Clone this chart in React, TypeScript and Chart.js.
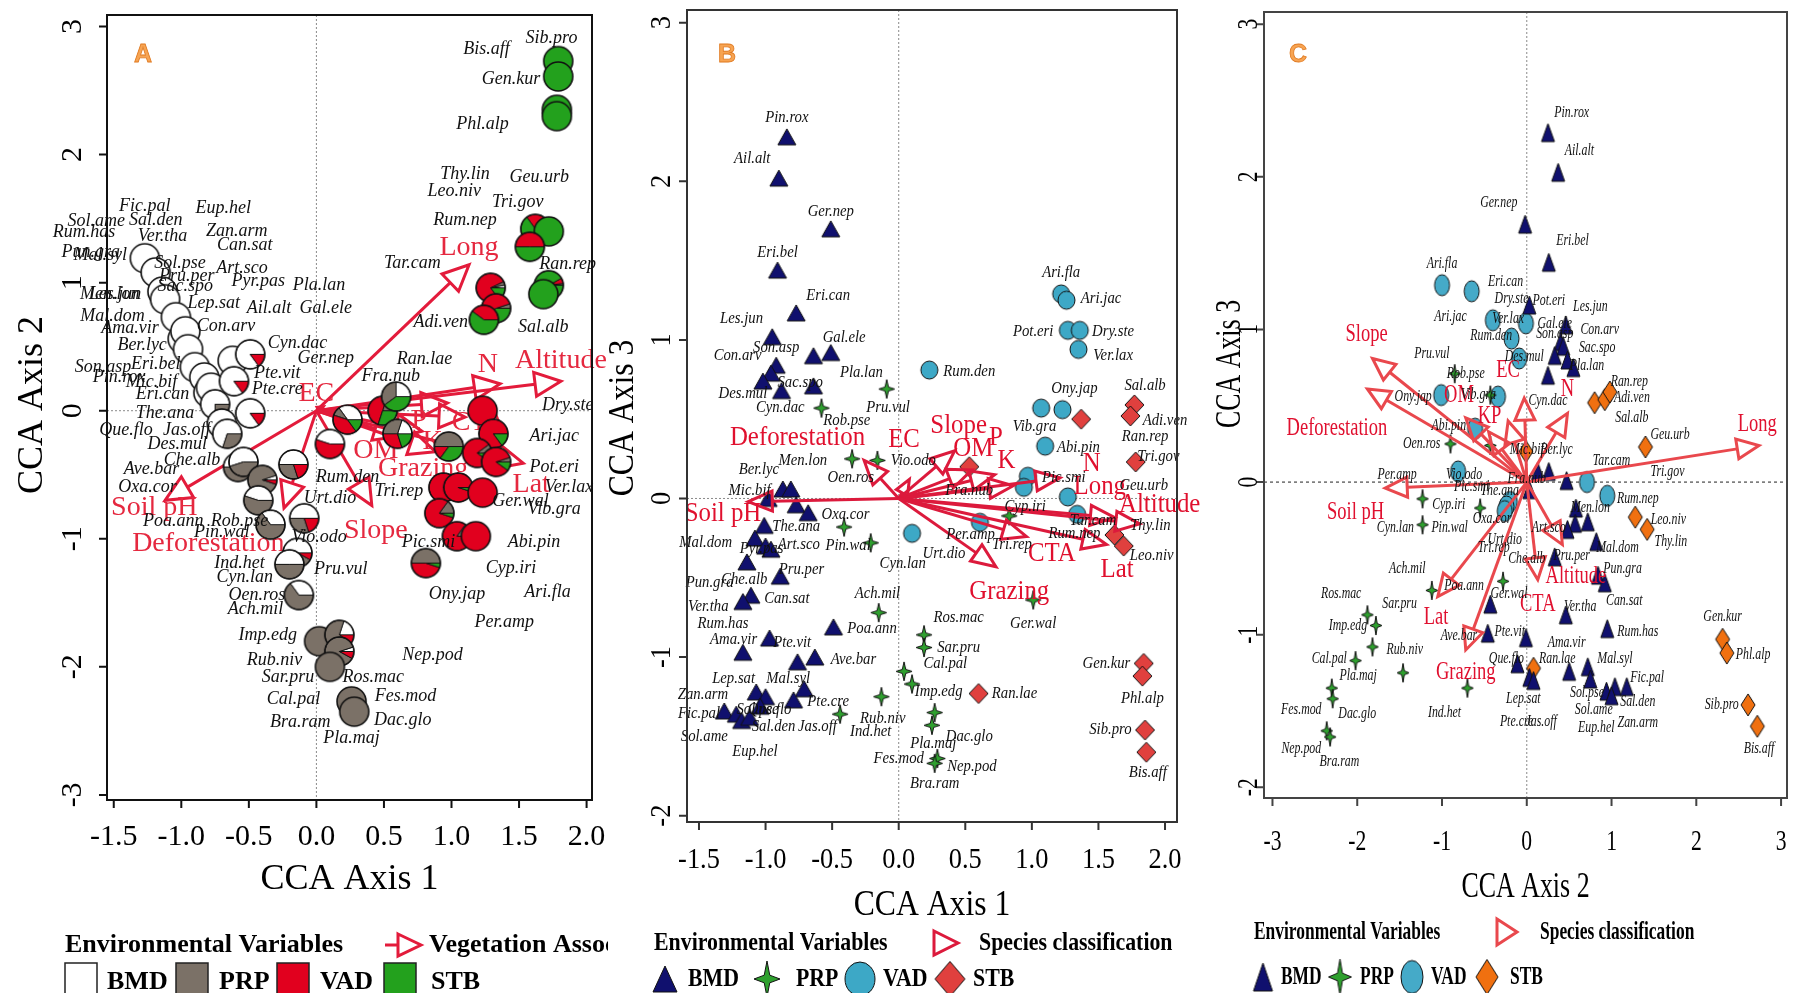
import React, { useEffect, useRef } from "react";
import { Chart, registerables } from "chart.js";
Chart.register(...registerables);

const W = 1797;
const H = 993;
const SERIF = "'Liberation Serif', 'Times New Roman', serif";
const SANS = "'Liberation Sans', Arial, sans-serif";

// ================= PANEL A =================
const A_xTicks = [-1.5, -1, -0.5, 0, 0.5, 1, 1.5, 2];
const A_xTickLabels = ["-1.5", "-1.0", "-0.5", "0.0", "0.5", "1.0", "1.5", "2.0"];
const A_yTicks = [-3, -2, -1, 0, 1, 2, 3];
const A_yTickLabels = ["-3", "-2", "-1", "0", "1", "2", "3"];

const A_ptX = [-1.27, -1.19, -1.14, -1.12, -1.04, -0.99, -0.97, -0.95, -0.9, -0.83, -0.8, -0.78, -0.75, -0.7, -0.66, -0.62, -0.61, -0.49, -0.49,
  -0.58, -0.54, -0.4, -0.43, -0.17, -0.34, -0.09, -0.14, -0.2, -0.13,
  0.02, 0.17, 0.17, 0.1, 0.26, 0.28,
  0.1, 0.23, 0.49, 0.59, 0.6, 0.98, 0.81,
  1.23, 1.31, 1.19, 1.33, 0.94, 1.05, 1.23, 0.91, 1.04, 1.18,
  1.29, 1.33, 1.24, 1.72, 1.68, 1.62, 1.72, 1.58, 1.79, 1.79, 1.78, 1.78];
const A_ptY = [1.19, 1.08, 0.93, 0.87, 0.73, 0.56, 0.62, 0.48, 0.34, 0.26, 0.14, 0.18, 0.05, -0.1, -0.18, 0.39, 0.23, 0.44, -0.02,
  -0.44, -0.4, -0.54, -0.7, -0.42, -0.89, -0.84, -1.11, -1.2, -1.44,
  -1.8, -1.75, -1.88, -2.0, -2.27, -2.35,
  -0.26, -0.07, 0.0, 0.11, -0.18, -0.28, -1.19,
  0.0, -0.18, -0.33, -0.4, -0.6, -0.6, -0.64, -0.8, -0.98, -0.98,
  0.96, 0.8, 0.71, 0.98, 0.91, 1.42, 1.4, 1.28, 2.73, 2.61, 2.35, 2.3];
// shares of [BMD, PRP, VAD, STB] in each pie
const A_ptPie = [
  [1, 0, 0, 0], [1, 0, 0, 0], [1, 0, 0, 0], [1, 0, 0, 0], [1, 0, 0, 0], [1, 0, 0, 0], [1, 0, 0, 0], [1, 0, 0, 0], [1, 0, 0, 0], [1, 0, 0, 0], [1, 0, 0, 0], [1, 0, 0, 0],
  [0.75, 0.25, 0, 0], [0.8, 0.2, 0, 0], [0.7, 0.3, 0, 0], [1, 0, 0, 0], [0.85, 0, 0.15, 0], [0.85, 0, 0.15, 0], [0.85, 0, 0.15, 0],
  [0.5, 0.5, 0, 0], [0.55, 0.45, 0, 0], [0.05, 0.9, 0.05, 0], [0.45, 0.55, 0, 0], [0.5, 0.3, 0.2, 0], [0.35, 0.65, 0, 0], [0.5, 0.3, 0.2, 0], [0.5, 0.42, 0.08, 0], [0.5, 0.5, 0, 0], [0.35, 0.65, 0, 0],
  [0, 1, 0, 0], [0.2, 0.7, 0.1, 0], [0.05, 0.87, 0.08, 0], [0, 1, 0, 0], [0, 1, 0, 0], [0, 1, 0, 0],
  [0.45, 0, 0.55, 0], [0.35, 0.1, 0.4, 0.15], [0, 0.2, 0.5, 0.3], [0.25, 0.35, 0, 0.4], [0.2, 0.3, 0.3, 0.2], [0, 0.5, 0.15, 0.35], [0, 0.5, 0.45, 0.05],
  [0, 0, 1, 0], [0, 0, 0.85, 0.15], [0, 0.1, 0.8, 0.1], [0, 0.05, 0.85, 0.1], [0, 0.15, 0.85, 0], [0, 0, 0.95, 0.05], [0, 0, 1, 0], [0, 0.15, 0.8, 0.05], [0, 0.15, 0.85, 0], [0, 0, 1, 0],
  [0.03, 0.04, 0.78, 0.15], [0, 0.05, 0.55, 0.4], [0, 0, 0.4, 0.6], [0, 0.02, 0.06, 0.92], [0, 0, 0, 1], [0, 0, 0.35, 0.65], [0, 0, 0, 1], [0, 0, 0.5, 0.5], [0, 0, 0, 1], [0, 0, 0, 1], [0, 0, 0, 1], [0, 0, 0, 1]];

const A_lblName = ["Sib.pro", "Bis.aff", "Gen.kur", "Phl.alp", "Thy.lin", "Geu.urb", "Leo.niv", "Tri.gov", "Rum.nep", "Tar.cam", "Ran.rep", "Adi.ven", "Sal.alb", "Ran.lae", "Fra.nub",
  "Dry.ste", "Ari.jac", "Pot.eri", "Ver.lax", "Ger.wal", "Vib.gra", "Abi.pin", "Pic.smi", "Rum.den", "Tri.rep", "Urt.dio", "Vio.odo", "Cyp.iri", "Ari.fla", "Ony.jap", "Per.amp",
  "Nep.pod", "Ros.mac", "Fes.mod", "Dac.glo", "Pla.maj", "Bra.ram", "Cal.pal", "Sar.pru", "Rub.niv", "Imp.edg", "Che.alb", "Ave.bar", "Oxa.cor", "Poa.ann", "Rob.pse", "Pin.wal",
  "Ind.het", "Cyn.lan", "Oen.ros", "Ach.mil", "Pru.vul", "Fic.pal", "Eup.hel", "Sal.den", "Zan.arm", "Ver.tha", "Can.sat", "Sol.pse", "Art.sco", "Pru.per", "Pyr.pas", "Pla.lan",
  "Sac.spo", "Lep.sat", "Ail.alt", "Gal.ele", "Con.arv", "Cyn.dac", "Ger.nep", "Pte.vit", "Pte.cre", "The.ana", "Jas.off", "Des.mul", "Que.flo", "Sol.ame", "Rum.has", "Pun.gra",
  "Mal.syl", "Men.lon", "Les.jun", "Mal.dom", "Ama.vir", "Ber.lyc", "Son.asp", "Eri.bel", "Pin.rox", "Mic.bif", "Eri.can"];
const A_lblX = [1.74, 1.26, 1.44, 1.23, 1.1, 1.65, 1.02, 1.49, 1.1, 0.71, 1.86, 0.92, 1.68, 0.8, 0.55,
  1.86, 1.76, 1.76, 1.87, 1.51, 1.76, 1.61, 0.83, 0.23, 0.61, 0.1, 0.02, 1.44, 1.71, 1.04, 1.39,
  0.86, 0.42, 0.66, 0.64, 0.26, -0.12, -0.17, -0.21, -0.31, -0.36, -0.92, -1.22, -1.25, -1.06, -0.57, -0.7,
  -0.57, -0.53, -0.44, -0.45, 0.18, -1.27, -0.69, -1.19, -0.59, -1.14, -0.53, -1.01, -0.55, -0.96, -0.43, 0.02,
  -0.97, -0.76, -0.35, 0.07, -0.67, -0.14, 0.07, -0.29, -0.29, -1.12, -0.96, -1.03, -1.41, -1.63, -1.72, -1.67,
  -1.6, -1.53, -1.49, -1.51, -1.38, -1.29, -1.58, -1.19, -1.46, -1.22, -1.14];
const A_lblY = [2.91, 2.82, 2.59, 2.24, 1.85, 1.82, 1.71, 1.63, 1.49, 1.15, 1.14, 0.69, 0.65, 0.4, 0.27,
  0.04, -0.2, -0.44, -0.6, -0.71, -0.77, -1.03, -1.03, -0.52, -0.63, -0.68, -0.99, -1.23, -1.42, -1.43, -1.65,
  -1.91, -2.08, -2.23, -2.42, -2.56, -2.43, -2.25, -2.08, -1.95, -1.75, -0.39, -0.46, -0.6, -0.86, -0.86, -0.95,
  -1.19, -1.3, -1.44, -1.55, -1.24, 1.6, 1.58, 1.49, 1.4, 1.36, 1.29, 1.15, 1.11, 1.05, 1.01, 0.98,
  0.97, 0.84, 0.8, 0.8, 0.66, 0.53, 0.41, 0.29, 0.17, -0.02, -0.15, -0.26, -0.15, 1.48, 1.39, 1.24,
  1.21, 0.91, 0.91, 0.74, 0.64, 0.51, 0.34, 0.36, 0.26, 0.22, 0.13];

const A_envName = ["Long", "Altitude", "N", "P", "CTA", "K", "OM", "Grazing", "Lat", "Slope", "Deforestation", "Soil pH", "EC"];
const A_envX = [1.13, 1.81, 1.36, 0.97, 1.1, 0.78, 0.62, 0.88, 1.53, 0.41, -0.24, -1.12, 0.05];
const A_envY = [1.14, 0.23, 0.21, 0.06, -0.05, -0.16, -0.2, -0.32, -0.41, -0.74, -0.76, -0.7, 0.03];
const A_envLblX = [1.13, 1.81, 1.27, 0.76, 1.2, 0.86, 0.44, 0.79, 1.59, 0.44, -0.8, -1.2, 0.0];
const A_envLblY = [1.27, 0.39, 0.36, -0.08, -0.09, -0.24, -0.31, -0.45, -0.58, -0.94, -1.04, -0.76, 0.13];

// ================= PANEL B =================
const B_xTicks = [-1.5, -1, -0.5, 0, 0.5, 1, 1.5, 2];
const B_xTickLabels = ["-1.5", "-1.0", "-0.5", "0.0", "0.5", "1.0", "1.5", "2.0"];
const B_yTicks = [-2, -1, 0, 1, 2, 3];
const B_yTickLabels = ["-2", "-1", "0", "1", "2", "3"];

const B_bmdX = [-0.84, -0.9, -0.51, -0.91, -0.77, -0.95, -0.51, -0.64, -0.92, -0.96, -1.02, -0.64, -0.88, -0.87, -0.81, -0.98, -0.77, -0.68, -1.01, -1.08,
  -1.0, -0.96, -1.14, -0.89, -1.11, -1.17, -0.49, -0.97, -1.17, -0.76, -0.63, -1.07, -1.0, -0.71, -0.79, -1.04, -1.31, -1.22, -1.18, -1.12];
const B_bmdY = [2.28, 2.02, 1.7, 1.44, 1.17, 1.02, 0.92, 0.9, 0.84, 0.79, 0.74, 0.71, 0.68, 0.06, 0.06, 0.0, -0.04, -0.09, -0.17, -0.25,
  -0.3, -0.32, -0.4, -0.49, -0.61, -0.65, -0.81, -0.88, -0.97, -1.03, -1.0, -1.22, -1.25, -1.2, -1.27, -1.31, -1.34, -1.36, -1.4, -1.38];
const B_prpX = [-0.09, -0.58, -0.35, -0.16, -0.41, -0.21, -0.15, 0.19, 0.19, 0.04, 0.1, -0.44, -0.13, 0.27, 0.25, 0.29, 0.27, 0.83, 1.01];
const B_prpY = [0.69, 0.57, 0.25, 0.24, -0.18, -0.28, -0.72, -0.86, -0.94, -1.09, -1.17, -1.36, -1.25, -1.35, -1.43, -1.64, -1.67, -0.11, -0.64];
const B_vadX = [0.23, 1.22, 1.26, 1.27, 1.36, 1.35, 1.07, 1.23, 1.1, 0.97, 0.94, 1.27, 1.34, 0.61, 0.1];
const B_vadY = [0.81, 1.29, 1.25, 1.06, 1.06, 0.94, 0.57, 0.56, 0.33, 0.14, 0.07, 0.01, -0.1, -0.15, -0.22];
const B_stbX = [0.53, 1.37, 1.77, 1.74, 1.78, 1.62, 1.69, 0.6, 1.84, 1.83, 1.85, 1.86];
const B_stbY = [0.2, 0.5, 0.59, 0.52, 0.23, -0.23, -0.3, -1.23, -1.04, -1.12, -1.46, -1.6];

const B_lblName = ["Pin.rox", "Ail.alt", "Ger.nep", "Eri.bel", "Eri.can", "Les.jun", "Gal.ele", "Son.asp", "Con.arv", "Sac.spo", "Des.mul", "Cyn.dac", "Pla.lan", "Rob.pse",
  "Pru.vul", "Rum.den", "Ber.lyc", "Mic.bif", "Men.lon", "Oen.ros", "Vio.odo", "Fra.nub", "Oxa.cor", "The.ana", "Mal.dom", "Art.sco", "Pyr.pas", "Pin.wal", "Cyn.lan",
  "Urt.dio", "Per.amp", "Tri.rep", "Pru.per", "Che.alb", "Pun.gra", "Can.sat", "Ver.tha", "Ach.mil", "Rum.has", "Poa.ann", "Ama.vir", "Pte.vit", "Ave.bar", "Ros.mac",
  "Sar.pru", "Cal.pal", "Imp.edg", "Ran.lae", "Ger.wal", "Gen.kur", "Phl.alp", "Sib.pro", "Bis.aff", "Lep.sat", "Mal.syl", "Pte.cre", "Zan.arm", "Fic.pal", "Sol.pse",
  "Que.flo", "Sal.den", "Jas.off", "Sol.ame", "Eup.hel", "Rub.niv", "Ind.het", "Dac.glo", "Pla.maj", "Fes.mod", "Nep.pod", "Bra.ram", "Ari.fla", "Ari.jac", "Pot.eri",
  "Dry.ste", "Ver.lax", "Ony.jap", "Vib.gra", "Abi.pin", "Sal.alb", "Adi.ven", "Ran.rep", "Tri.gov", "Geu.urb", "Pic.smi", "Cyp.iri", "Tar.cam", "Rum.nep", "Thy.lin", "Leo.niv"];
const B_lblX = [-0.84, -1.1, -0.51, -0.91, -0.53, -1.18, -0.41, -0.92, -1.21, -0.74, -1.17, -0.89, -0.28, -0.39,
  -0.08, 0.53, -1.05, -1.12, -0.72, -0.36, 0.11, 0.53, -0.4, -0.77, -1.45, -0.75, -1.03, -0.38, 0.03,
  0.34, 0.54, 0.85, -0.73, -1.16, -1.42, -0.84, -1.43, -0.16, -1.32, -0.2, -1.24, -0.8, -0.34, 0.45,
  0.45, 0.35, 0.3, 0.87, 1.01, 1.56, 1.83, 1.59, 1.87, -1.24, -0.83, -0.53, -1.47, -1.5, -1.06,
  -0.97, -0.94, -0.61, -1.46, -1.08, -0.12, -0.21, 0.53, 0.26, 0.0, 0.55, 0.27, 1.22, 1.52, 1.01,
  1.61, 1.61, 1.32, 1.02, 1.35, 1.85, 2.0, 1.85, 1.95, 1.84, 1.24, 0.95, 1.46, 1.32, 1.89, 1.9];
const B_lblY = [2.4, 2.14, 1.81, 1.55, 1.28, 1.13, 1.01, 0.95, 0.9, 0.73, 0.66, 0.57, 0.79, 0.49,
  0.57, 0.8, 0.18, 0.05, 0.24, 0.13, 0.24, 0.05, -0.1, -0.18, -0.28, -0.29, -0.32, -0.3, -0.41,
  -0.35, -0.23, -0.29, -0.45, -0.51, -0.53, -0.63, -0.68, -0.6, -0.79, -0.82, -0.89, -0.91, -1.02, -0.75,
  -0.94, -1.04, -1.22, -1.23, -0.79, -1.04, -1.26, -1.46, -1.73, -1.14, -1.14, -1.28, -1.24, -1.36, -1.33,
  -1.33, -1.44, -1.44, -1.5, -1.6, -1.39, -1.47, -1.5, -1.55, -1.64, -1.69, -1.8, 1.42, 1.26, 1.05,
  1.05, 0.9, 0.69, 0.45, 0.32, 0.71, 0.49, 0.39, 0.26, 0.08, 0.13, -0.05, -0.14, -0.22, -0.17, -0.36];

const B_envName = ["Soil pH", "Deforestation", "EC", "Slope", "OM", "P", "K", "N", "Long", "Altitude", "Lat", "CTA", "Grazing"];
const B_envX = [-1.13, -0.26, 0.08, 0.42, 0.55, 0.72, 0.86, 1.21, 1.62, 1.81, 1.56, 0.96, 0.73];
const B_envY = [-0.02, 0.24, 0.12, 0.3, 0.18, 0.15, 0.08, 0.13, -0.12, -0.16, -0.29, -0.24, -0.43];
const B_envLblX = [-1.32, -0.76, 0.04, 0.45, 0.56, 0.73, 0.81, 1.45, 1.51, 1.96, 1.64, 1.15, 0.83];
const B_envLblY = [-0.1, 0.38, 0.37, 0.46, 0.31, 0.38, 0.24, 0.22, 0.07, -0.04, -0.45, -0.35, -0.59];

// ================= PANEL C =================
const C_xTicks = [-3, -2, -1, 0, 1, 2, 3];
const C_xTickLabels = ["-3", "-2", "-1", "0", "1", "2", "3"];
const C_yTicks = [-2, -1, 0, 1, 2, 3];
const C_yTickLabels = ["-2", "-1", "0", "1", "2", "3"];

const C_bmdX = [0.25, 0.37, -0.02, 0.26, 0.03, 0.46, 0.4, 0.43, 0.33, 0.48, 0.55, 0.25, 0.13, 0.26, 0.47, 0.03, 0.58, 0.57, 0.72, 0.48,
  0.82, 0.33, 0.84, 0.92, 0.46, -0.43, 0.95, -0.46, -0.01, -0.11, 0.03, 0.08, 0.5, 0.72, 0.75, 0.94, 1.04, 1.18, 1.0];
const C_bmdY = [2.29, 2.03, 1.69, 1.44, 1.16, 1.03, 0.92, 0.89, 0.83, 0.8, 0.75, 0.7, 0.07, 0.07, 0.01, -0.05, -0.17, -0.27, -0.26, -0.31,
  -0.39, -0.49, -0.61, -0.66, -0.87, -0.8, -0.96, -0.99, -1.02, -1.19, -1.28, -1.3, -1.24, -1.21, -1.29, -1.37, -1.34, -1.34, -1.4];
const C_prpX = [-0.85, -0.43, -0.9, -0.43, -1.23, -0.55, -1.23, -1.12, -0.28, -1.88, -1.78, -1.82, -1.46, -2.02, -2.3, -2.29, -2.36, -2.32, -0.7];
const C_prpY = [0.71, 0.57, 0.25, 0.24, -0.11, -0.17, -0.28, -0.71, -0.65, -0.87, -0.94, -1.08, -1.25, -1.17, -1.35, -1.42, -1.63, -1.67, -1.35];
const C_vadX = [-1.0, -0.65, -0.4, -0.01, -0.18, -0.09, -1.01, -0.34, -0.61, -0.81, -0.2, -0.24, -0.26, 0.71, 0.95];
const C_vadY = [1.29, 1.25, 1.06, 1.04, 0.94, 0.81, 0.57, 0.56, 0.35, 0.07, -0.13, -0.16, -0.19, 0.0, -0.09];
const C_stbX = [0.8, 0.92, 0.98, 1.4, -0.01, 1.28, 1.42, 0.08, 2.31, 2.36, 2.61, 2.72];
const C_stbY = [0.52, 0.54, 0.59, 0.23, 0.2, -0.23, -0.31, -1.22, -1.03, -1.12, -1.46, -1.6];

const C_lblName = ["Pin.rox", "Ail.alt", "Ger.nep", "Eri.bel", "Ari.fla", "Ari.jac", "Eri.can", "Dry.ste", "Pot.eri", "Ver.lax", "Rum.den", "Des.mul", "Les.jun",
  "Gal.ele", "Son.asp", "Con.arv", "Sac.spo", "Pla.lan", "Cyn.dac", "Pru.vul", "Rob.pse", "Ony.jap", "Vib.gra", "Abi.pin", "Oen.ros", "Ran.rep", "Adi.ven",
  "Sal.alb", "Geu.urb", "Mic.bif", "Ber.lyc", "Tar.cam", "Tri.gov", "Per.amp", "Vio.odo", "Pic.smi", "The.ana", "Fra.nub", "Oxa.cor", "Cyp.iri", "Cyn.lan",
  "Pin.wal", "Urt.dio", "Tri.rep", "Rum.nep", "Men.lon", "Art.sco", "Mal.dom", "Leo.niv", "Thy.lin", "Che.alb", "Pru.per", "Pun.gra", "Can.sat", "Ver.tha",
  "Ach.mil", "Poa.ann", "Ger.wal", "Ros.mac", "Sar.pru", "Imp.edg", "Rub.niv", "Cal.pal", "Pla.maj", "Fes.mod", "Dac.glo", "Nep.pod", "Bra.ram", "Ave.bar",
  "Pte.vit", "Ind.het", "Que.flo", "Ran.lae", "Ama.vir", "Rum.has", "Mal.syl", "Fic.pal", "Sol.pse", "Sal.den", "Sol.ame", "Zan.arm", "Eup.hel", "Lep.sat",
  "Pte.cre", "Jas.off", "Gen.kur", "Phl.alp", "Sib.pro", "Bis.aff"];
const C_lblX = [0.53, 0.62, -0.33, 0.54, -1.0, -0.9, -0.25, -0.18, 0.26, -0.22, -0.42, -0.03, 0.75,
  0.33, 0.33, 0.86, 0.83, 0.71, 0.25, -1.12, -0.72, -1.34, -0.57, -0.92, -1.24, 1.21, 1.24,
  1.24, 1.69, 0.0, 0.35, 1.0, 1.66, -1.53, -0.74, -0.65, -0.32, 0.0, -0.41, -0.92, -1.55,
  -0.91, -0.26, -0.39, 1.31, 0.75, 0.26, 1.07, 1.67, 1.7, 0.0, 0.53, 1.13, 1.15, 0.63,
  -1.41, -0.74, -0.21, -2.19, -1.5, -2.11, -1.44, -2.33, -1.99, -2.66, -2.0, -2.66, -2.21, -0.8,
  -0.2, -0.97, -0.24, 0.36, 0.47, 1.31, 1.04, 1.42, 0.71, 1.31, 0.79, 1.31, 0.82, -0.04,
  -0.12, 0.17, 2.31, 2.67, 2.3, 2.74];
const C_lblY = [2.42, 2.17, 1.83, 1.58, 1.43, 1.08, 1.31, 1.2, 1.19, 1.07, 0.96, 0.82, 1.15,
  1.04, 0.97, 1.0, 0.88, 0.76, 0.53, 0.84, 0.71, 0.56, 0.57, 0.37, 0.25, 0.66, 0.55,
  0.42, 0.31, 0.21, 0.21, 0.14, 0.07, 0.05, 0.05, -0.03, -0.06, 0.02, -0.24, -0.15, -0.3,
  -0.3, -0.38, -0.43, -0.11, -0.17, -0.3, -0.43, -0.25, -0.39, -0.5, -0.48, -0.57, -0.78, -0.82,
  -0.57, -0.68, -0.73, -0.73, -0.8, -0.94, -1.1, -1.16, -1.27, -1.49, -1.52, -1.75, -1.83, -1.01,
  -0.98, -1.51, -1.16, -1.16, -1.05, -0.98, -1.16, -1.28, -1.38, -1.44, -1.49, -1.58, -1.61, -1.42,
  -1.57, -1.57, -0.88, -1.13, -1.46, -1.75];

const C_envName = ["Slope", "Deforestation", "OM", "K", "P", "EC", "N", "Long", "Soil pH", "Lat", "Grazing", "CTA", "Altitude"];
const C_envX = [-1.82, -1.88, -0.72, -0.45, -0.22, -0.03, 0.48, 2.74, -1.67, -1.05, -0.72, 0.13, 0.42];
const C_envY = [0.81, 0.61, 0.42, 0.33, 0.4, 0.55, 0.45, 0.24, -0.04, -0.75, -1.1, -0.64, -0.41];
const C_envLblX = [-1.89, -2.24, -0.8, -0.5, -0.36, -0.22, 0.48, 2.72, -2.02, -1.07, -0.72, 0.13, 0.58];
const C_envLblY = [0.97, 0.35, 0.57, 0.43, 0.43, 0.73, 0.61, 0.38, -0.2, -0.89, -1.25, -0.8, -0.62];

// ================= helpers =================
const PIE_COLORS = ["#ffffff", "#7b7167", "#e1001e", "#23a11d"];

function txt(ctx: any, s: string, x: number, y: number, o: any = {}) {
  ctx.save();
  ctx.translate(x, y);
  if (o.rot) ctx.rotate(o.rot);
  if (o.sx && o.sx !== 1) ctx.scale(o.sx, 1);
  ctx.font = o.font || `16px ${SERIF}`;
  ctx.fillStyle = o.color || "#000";
  ctx.textAlign = o.align || "center";
  ctx.textBaseline = o.baseline || "middle";
  ctx.fillText(s, 0, 0);
  ctx.restore();
}

function makePie(f: number[], r: number) {
  const s = Math.ceil(2 * r + 4);
  const c = document.createElement("canvas");
  c.width = s;
  c.height = s;
  const g: any = c.getContext("2d");
  const cx = s / 2, cy = s / 2;
  const tot = f.reduce((a, b) => a + b, 0);
  let a = 0;
  const nz = f.filter((v) => v > 0).length;
  for (let i = 0; i < f.length; i++) {
    if (f[i] <= 0) continue;
    const da = (f[i] / tot) * Math.PI * 2;
    g.beginPath();
    g.moveTo(cx, cy);
    g.arc(cx, cy, r, -a, -(a + da), true);
    g.closePath();
    g.fillStyle = PIE_COLORS[i];
    g.fill();
    if (nz > 1) {
      g.lineWidth = 1;
      g.strokeStyle = "#111";
      g.stroke();
    }
    a += da;
  }
  g.beginPath();
  g.arc(cx, cy, r, 0, Math.PI * 2);
  g.lineWidth = 1.6;
  g.strokeStyle = "#111";
  g.stroke();
  return c;
}

function shapePath(g: any, shape: string, cx: number, cy: number, w: number, h: number) {
  g.beginPath();
  if (shape === "tri") {
    g.moveTo(cx, cy - h / 2);
    g.lineTo(cx + w / 2, cy + h / 2);
    g.lineTo(cx - w / 2, cy + h / 2);
    g.closePath();
  } else if (shape === "circ") {
    g.ellipse(cx, cy, w / 2, h / 2, 0, 0, Math.PI * 2);
  } else if (shape === "dia") {
    g.moveTo(cx, cy - h / 2);
    g.lineTo(cx + w / 2, cy);
    g.lineTo(cx, cy + h / 2);
    g.lineTo(cx - w / 2, cy);
    g.closePath();
  } else {
    for (let k = 0; k < 8; k++) {
      const ang = (k * Math.PI) / 4 - Math.PI / 2;
      const rr = k % 2 === 0 ? 1 : 0.3;
      const x = cx + Math.cos(ang) * (w / 2) * rr;
      const y = cy + Math.sin(ang) * (h / 2) * rr;
      if (k === 0) g.moveTo(x, y);
      else g.lineTo(x, y);
    }
    g.closePath();
  }
}

function makeMarker(shape: string, fill: string, w: number, h: number) {
  const c = document.createElement("canvas");
  c.width = Math.ceil(w + 4);
  c.height = Math.ceil(h + 4);
  const g: any = c.getContext("2d");
  shapePath(g, shape, c.width / 2, c.height / 2, w, h);
  g.fillStyle = fill;
  g.fill();
  g.lineWidth = 1;
  g.strokeStyle = "#111";
  g.stroke();
  return c;
}

function drawArrow(ctx: any, x0: number, y0: number, x1: number, y1: number, color: string, lw: number, hl0: number, hw0: number) {
  const dx = x1 - x0, dy = y1 - y0;
  const L = Math.hypot(dx, dy);
  if (L < 2) return;
  const ux = dx / L, uy = dy / L;
  const hl = Math.min(hl0, L * 0.7);
  const hw = (hw0 * hl) / hl0;
  const bx = x1 - ux * hl, by = y1 - uy * hl;
  ctx.save();
  ctx.strokeStyle = color;
  ctx.lineWidth = lw;
  ctx.lineJoin = "miter";
  ctx.beginPath();
  ctx.moveTo(x0, y0);
  ctx.lineTo(bx, by);
  ctx.stroke();
  ctx.beginPath();
  ctx.moveTo(x1, y1);
  ctx.lineTo(bx - (uy * hw) / 2, by + (ux * hw) / 2);
  ctx.lineTo(bx + (uy * hw) / 2, by - (ux * hw) / 2);
  ctx.closePath();
  ctx.stroke();
  ctx.restore();
}

function drawEnv(chart: any, cfg: any) {
  const ctx = chart.ctx;
  const xs = chart.scales.x, ys = chart.scales.y;
  const ox = xs.getPixelForValue(0), oy = ys.getPixelForValue(0);
  const e = cfg.env;
  for (let i = 0; i < e.name.length; i++) {
    drawArrow(ctx, ox, oy, xs.getPixelForValue(e.x[i]), ys.getPixelForValue(e.y[i]), cfg.arrowColor, cfg.arrowLW, cfg.headLen, cfg.headW);
  }
  for (let i = 0; i < e.name.length; i++) {
    txt(ctx, e.name[i], xs.getPixelForValue(e.lx[i]), ys.getPixelForValue(e.ly[i]), { font: cfg.envFont, color: cfg.envColor, sx: cfg.sx });
  }
}

function drawLegend(ctx: any, cfg: any) {
  const o = cfg.ox;
  const lg = cfg.legend;
  const bf = `bold 26px ${SERIF}`;
  txt(ctx, "Environmental Variables", lg.titleX - o, lg.titleY, { font: bf, align: "left", sx: lg.sx });
  ctx.save();
  ctx.strokeStyle = lg.iconColor;
  ctx.lineWidth = 3;
  const ix = lg.iconX - o, iy = lg.titleY;
  if (lg.iconLine) {
    ctx.beginPath();
    ctx.moveTo(ix - 13, iy);
    ctx.lineTo(ix, iy);
    ctx.stroke();
  }
  ctx.beginPath();
  ctx.moveTo(ix, iy - lg.iconH / 2);
  ctx.lineTo(ix + lg.iconW, iy);
  ctx.lineTo(ix, iy + lg.iconH / 2);
  ctx.closePath();
  ctx.stroke();
  ctx.restore();
  txt(ctx, lg.secondTitle, lg.secondX - o, lg.titleY, { font: bf, align: "left", sx: lg.sx });
  const names = ["BMD", "PRP", "VAD", "STB"];
  for (let i = 0; i < 4; i++) {
    const it = lg.items[i];
    if (lg.squares) {
      ctx.save();
      ctx.fillStyle = PIE_COLORS[i];
      ctx.fillRect(it.mx - o, lg.rowTop, 32, 44);
      ctx.strokeStyle = "#222";
      ctx.lineWidth = 1.5;
      ctx.strokeRect(it.mx - o, lg.rowTop, 32, 44);
      ctx.restore();
    } else {
      const m = it.marker;
      ctx.drawImage(m, it.mx - o - m.width / 2, lg.rowY - m.height / 2);
    }
    txt(ctx, names[i], it.tx - o, lg.rowY, { font: bf, align: "left", sx: lg.sx });
  }
}

function makePlugin(cfg: any) {
  return {
    id: "cca" + cfg.id,
    beforeDatasetsDraw(chart: any) {
      const ctx = chart.ctx;
      const a = chart.chartArea;
      const xs = chart.scales.x, ys = chart.scales.y;
      const x0 = xs.getPixelForValue(0), y0 = ys.getPixelForValue(0);
      ctx.save();
      ctx.lineWidth = 1;
      ctx.strokeStyle = "#8a8a8a";
      ctx.setLineDash([2, 2]);
      ctx.beginPath();
      ctx.moveTo(x0, a.top);
      ctx.lineTo(x0, a.bottom);
      ctx.stroke();
      ctx.strokeStyle = cfg.hZeroColor;
      ctx.setLineDash(cfg.hZeroDash);
      ctx.beginPath();
      ctx.moveTo(a.left, y0);
      ctx.lineTo(a.right, y0);
      ctx.stroke();
      ctx.restore();
      if (!cfg.arrowsOnTop) drawEnv(chart, cfg);
    },
    afterDatasetsDraw(chart: any) {
      if (cfg.arrowsOnTop) drawEnv(chart, cfg);
      const ctx = chart.ctx;
      const xs = chart.scales.x, ys = chart.scales.y;
      const l = cfg.labels;
      for (let i = 0; i < l.name.length; i++) {
        txt(ctx, l.name[i], xs.getPixelForValue(l.x[i]), ys.getPixelForValue(l.y[i]), { font: cfg.lblFont, color: "#111", sx: cfg.sx });
      }
    },
    afterDraw(chart: any) {
      const ctx = chart.ctx;
      const a = chart.chartArea;
      const xs = chart.scales.x, ys = chart.scales.y;
      const o = cfg.ox;
      ctx.save();
      ctx.strokeStyle = cfg.boxColor;
      ctx.lineWidth = 2;
      ctx.strokeRect(a.left, a.top, a.right - a.left, a.bottom - a.top);
      ctx.beginPath();
      cfg.xTicks.forEach((v: number) => {
        const px = xs.getPixelForValue(v);
        ctx.moveTo(px, a.bottom);
        ctx.lineTo(px, a.bottom + 8);
      });
      cfg.yTicks.forEach((v: number) => {
        const py = ys.getPixelForValue(v);
        ctx.moveTo(a.left - 8, py);
        ctx.lineTo(a.left, py);
      });
      ctx.stroke();
      ctx.restore();
      const tf = `30px ${SERIF}`;
      cfg.xTicks.forEach((v: number, i: number) => {
        txt(ctx, cfg.xTickLabels[i], xs.getPixelForValue(v), cfg.xLabY, { font: tf, sx: cfg.tsx });
      });
      cfg.yTicks.forEach((v: number, i: number) => {
        txt(ctx, cfg.yTickLabels[i], cfg.yLabX - o, ys.getPixelForValue(v), { font: tf, sx: cfg.tsx, rot: -Math.PI / 2 });
      });
      const af = `36px ${SERIF}`;
      txt(ctx, cfg.xTitle, (a.left + a.right) / 2, cfg.xTitleY, { font: af, sx: cfg.tsx });
      txt(ctx, cfg.yTitle, cfg.yTitleX - o, cfg.yTitleCY, { font: af, sx: cfg.tsx, rot: -Math.PI / 2 });
      ctx.save();
      ctx.font = `bold 25px ${SANS}`;
      ctx.textAlign = "center";
      ctx.textBaseline = "middle";
      ctx.fillStyle = "#f7a452";
      ctx.fillText(cfg.letter, cfg.letterX - o, 55);
      ctx.lineWidth = 0.8;
      ctx.strokeStyle = "#e07a22";
      ctx.strokeText(cfg.letter, cfg.letterX - o, 55);
      ctx.restore();
      drawLegend(ctx, cfg);
    },
  };
}

function buildPanel(canvas: HTMLCanvasElement, cfg: any) {
  const datasets = cfg.groups.map((g: any) => ({
    label: g.name,
    data: g.x.map((v: number, i: number) => ({ x: v, y: g.y[i] })),
    pointStyle: g.style,
    pointRadius: g.radius,
    pointHoverRadius: g.radius,
    clip: false,
  }));
  return new Chart(canvas, {
    type: "scatter",
    data: { datasets },
    options: {
      responsive: false,
      maintainAspectRatio: false,
      animation: false,
      devicePixelRatio: 1,
      events: [],
      layout: { padding: { left: cfg.L - cfg.ox, right: cfg.ox + cfg.w - cfg.R, top: cfg.T, bottom: H - cfg.B } },
      plugins: { legend: { display: false }, tooltip: { enabled: false }, title: { display: false } },
      scales: {
        x: { type: "linear", min: cfg.xmin, max: cfg.xmax, display: false, ticks: { stepSize: cfg.xStep, includeBounds: false } },
        y: { type: "linear", min: cfg.ymin, max: cfg.ymax, display: false, ticks: { stepSize: 1, includeBounds: false } },
      },
    },
    plugins: [makePlugin(cfg)],
  } as any);
}

function configA() {
  return {
    id: "A", ox: 0, w: 608, L: 107, R: 592, T: 9, B: 800,
    xmin: -1.55, xmax: 2.04, ymin: -3.04, ymax: 3.09, xStep: 0.5,
    xTicks: A_xTicks, xTickLabels: A_xTickLabels, yTicks: A_yTicks, yTickLabels: A_yTickLabels,
    xLabY: 837, yLabX: 73, xTitle: "CCA Axis 1", xTitleY: 880, yTitle: "CCA Axis 2", yTitleX: 33, yTitleCY: 405,
    tsx: 1, sx: 1, letter: "A", letterX: 143, boxColor: "#111", hZeroColor: "#8a8a8a", hZeroDash: [2, 2],
    arrowsOnTop: false, arrowColor: "#e31b3b", arrowLW: 3, headLen: 26, headW: 24,
    envFont: `28px ${SERIF}`, envColor: "#e5283f", lblFont: `italic 18px ${SERIF}`,
    groups: [{ name: "Vegetation associations", x: A_ptX, y: A_ptY, style: A_ptPie.map((p) => makePie(p, 14.5)), radius: 14 }],
    labels: { name: A_lblName, x: A_lblX, y: A_lblY },
    env: { name: A_envName, x: A_envX, y: A_envY, lx: A_envLblX, ly: A_envLblY },
    legend: {
      sx: 1, titleX: 65, titleY: 945, iconX: 398, iconW: 23, iconH: 22, iconLine: true, iconColor: "#e31b3b",
      secondTitle: "Vegetation Association", secondX: 429, rowY: 982, rowTop: 963, squares: true,
      items: [{ mx: 65, tx: 107 }, { mx: 176, tx: 219 }, { mx: 277, tx: 320 }, { mx: 384, tx: 431 }],
    },
  };
}

function configB() {
  const cols = ["#10106e", "#2ea02e", "#3da8c6", "#e0403e"];
  return {
    id: "B", ox: 608, w: 604, L: 687, R: 1177, T: 10, B: 822,
    xmin: -1.59, xmax: 2.09, ymin: -2.04, ymax: 3.08, xStep: 0.5,
    xTicks: B_xTicks, xTickLabels: B_xTickLabels, yTicks: B_yTicks, yTickLabels: B_yTickLabels,
    xLabY: 860, yLabX: 662, xTitle: "CCA Axis 1", xTitleY: 906, yTitle: "CCA Axis 3", yTitleX: 624, yTitleCY: 418,
    tsx: 0.88, sx: 0.92, letter: "B", letterX: 727, boxColor: "#333", hZeroColor: "#8a8a8a", hZeroDash: [2, 2],
    arrowsOnTop: true, arrowColor: "#dc1a3c", arrowLW: 3, headLen: 24, headW: 20,
    envFont: `27px ${SERIF}`, envColor: "#e0102e", lblFont: `italic 16px ${SERIF}`,
    groups: [
      { name: "BMD", x: B_bmdX, y: B_bmdY, style: makeMarker("tri", cols[0], 18, 16), radius: 8 },
      { name: "PRP", x: B_prpX, y: B_prpY, style: makeMarker("star", cols[1], 16, 19), radius: 8 },
      { name: "VAD", x: B_vadX, y: B_vadY, style: makeMarker("circ", cols[2], 17, 18), radius: 9 },
      { name: "STB", x: B_stbX, y: B_stbY, style: makeMarker("dia", cols[3], 19, 20), radius: 9 },
    ],
    labels: { name: B_lblName, x: B_lblX, y: B_lblY },
    env: { name: B_envName, x: B_envX, y: B_envY, lx: B_envLblX, ly: B_envLblY },
    legend: {
      sx: 0.84, titleX: 654, titleY: 943, iconX: 934, iconW: 24, iconH: 24, iconLine: false, iconColor: "#dc1a3c",
      secondTitle: "Species classification", secondX: 979, rowY: 979, rowTop: 963, squares: false,
      items: [
        { mx: 665, tx: 688, marker: makeMarker("tri", cols[0], 24, 26) },
        { mx: 767, tx: 796, marker: makeMarker("star", cols[1], 26, 36) },
        { mx: 860, tx: 883, marker: makeMarker("circ", cols[2], 30, 34) },
        { mx: 950, tx: 973, marker: makeMarker("dia", cols[3], 30, 35) },
      ],
    },
  };
}

function configC() {
  const cols = ["#10106e", "#2ea02e", "#45aac8", "#f07010"];
  return {
    id: "C", ox: 1212, w: 585, L: 1264, R: 1793, T: 12, B: 798,
    xmin: -3.1, xmax: 3.07, ymin: -2.07, ymax: 3.08, xStep: 1,
    xTicks: C_xTicks, xTickLabels: C_xTickLabels, yTicks: C_yTicks, yTickLabels: C_yTickLabels,
    xLabY: 842, yLabX: 1249, xTitle: "CCA Axis 2", xTitleY: 888, yTitle: "CCA Axis 3", yTitleX: 1231, yTitleCY: 364,
    tsx: 0.72, sx: 0.74, letter: "C", letterX: 1298, boxColor: "#444", hZeroColor: "#222", hZeroDash: [3, 3],
    arrowsOnTop: true, arrowColor: "#e9484d", arrowLW: 3, headLen: 22, headW: 20,
    envFont: `25px ${SERIF}`, envColor: "#e0102f", lblFont: `italic 16px ${SERIF}`,
    groups: [
      { name: "BMD", x: C_bmdX, y: C_bmdY, style: makeMarker("tri", cols[0], 13, 18), radius: 8 },
      { name: "PRP", x: C_prpX, y: C_prpY, style: makeMarker("star", cols[1], 12, 19), radius: 8 },
      { name: "VAD", x: C_vadX, y: C_vadY, style: makeMarker("circ", cols[2], 15, 21), radius: 9 },
      { name: "STB", x: C_stbX, y: C_stbY, style: makeMarker("dia", cols[3], 14, 22), radius: 9 },
    ],
    labels: { name: C_lblName, x: C_lblX, y: C_lblY },
    env: { name: C_envName, x: C_envX, y: C_envY, lx: C_envLblX, ly: C_envLblY },
    legend: {
      sx: 0.67, titleX: 1254, titleY: 932, iconX: 1497, iconW: 20, iconH: 26, iconLine: false, iconColor: "#e9484d",
      secondTitle: "Species classification", secondX: 1540, rowY: 977, rowTop: 963, squares: false,
      items: [
        { mx: 1263, tx: 1281, marker: makeMarker("tri", cols[0], 19, 28) },
        { mx: 1340, tx: 1360, marker: makeMarker("star", cols[1], 23, 36) },
        { mx: 1412, tx: 1431, marker: makeMarker("circ", cols[2], 22, 33) },
        { mx: 1487, tx: 1510, marker: makeMarker("dia", cols[3], 22, 35) },
      ],
    },
  };
}

export default function App() {
  const refA = useRef<HTMLCanvasElement>(null);
  const refB = useRef<HTMLCanvasElement>(null);
  const refC = useRef<HTMLCanvasElement>(null);

  useEffect(() => {
    const charts: any[] = [];
    if (refA.current) charts.push(buildPanel(refA.current, configA()));
    if (refB.current) charts.push(buildPanel(refB.current, configB()));
    if (refC.current) charts.push(buildPanel(refC.current, configC()));
    return () => charts.forEach((c) => c.destroy());
  }, []);

  const cs = (left: number, width: number): any => ({ position: "absolute", left, top: 0, width, height: H, display: "block" });
  return (
    <div style={{ position: "fixed", left: 0, top: 0, width: W, height: H, background: "#fff", overflow: "hidden" }}>
      <canvas ref={refA} width={608} height={H} style={cs(0, 608)} />
      <canvas ref={refB} width={604} height={H} style={cs(608, 604)} />
      <canvas ref={refC} width={585} height={H} style={cs(1212, 585)} />
    </div>
  );
}
